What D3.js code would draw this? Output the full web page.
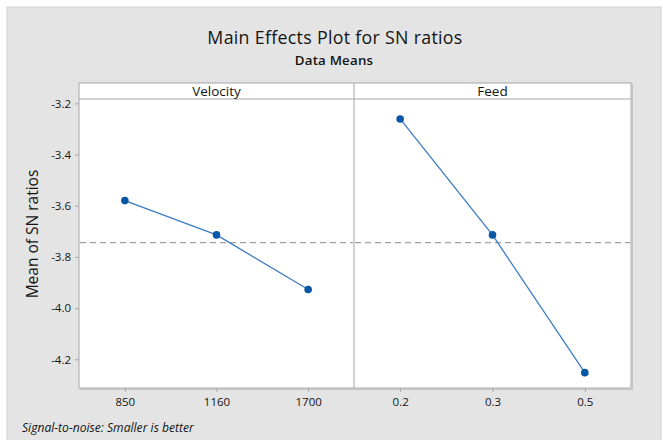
<!DOCTYPE html>
<html>
<head>
<meta charset="utf-8">
<script src="https://cdn.jsdelivr.net/npm/d3@7"></script>
<style>
  html, body { margin: 0; padding: 0; background: #ffffff; }
  svg { display: block; }
  text { font-family: "Open Sans", "Noto Sans", "DejaVu Sans", sans-serif; fill: #141414; }
</style>
</head>
<body>
<svg id="chart" width="663" height="440"></svg>
<script>
// ---- data ----
const velocityLevels = ["850", "1160", "1700"];
const velocityMeans = [-3.580, -3.714, -3.927];
const feedLevels = ["0.2", "0.3", "0.5"];
const feedMeans = [-3.261, -3.714, -4.252];
const panelNames = ["Velocity", "Feed"];
const yTicks = [-3.2, -3.4, -3.6, -3.8, -4.0, -4.2];
const overallMean = -3.744;
const titleText = "Main Effects Plot for SN ratios";
const subtitleText = "Data Means";
const yLabelText = "Mean of SN ratios";
const footerText = "Signal-to-noise: Smaller is better";

const svg = d3.select("#chart");
const W = 663, H = 440;

// background
svg.append("rect").attr("x", 0).attr("y", 0).attr("width", W).attr("height", H).attr("fill", "#ffffff");
svg.append("rect").attr("x", 7).attr("y", 7).attr("width", 654).attr("height", 440)
  .attr("fill", "#e4e4e4").attr("stroke", "#d2d2d2").attr("stroke-width", 1);

// layout
const plotLeft = 79, plotRight = 631, divider = 354;
const headerTop = 83, headerBottom = 99, plotBottom = 388;

const y = d3.scaleLinear().domain([-4.312, -3.183]).range([plotBottom, headerBottom]);

function fitText(sel, target, maxFs) {
  const len = sel.node().getComputedTextLength();
  const fs = parseFloat(sel.attr("font-size"));
  if (len > 0) {
    let nf = fs * target / len;
    if (maxFs && nf > maxFs) nf = maxFs;
    sel.attr("font-size", nf.toFixed(2));
  }
}

// titles
const t1 = svg.append("text").attr("x", 335).attr("y", 43.5).attr("text-anchor", "middle")
  .attr("font-size", 17.8).attr("letter-spacing", 0.3).text(titleText);
const t2 = svg.append("text").attr("x", 334).attr("y", 64.5).attr("text-anchor", "middle")
  .attr("font-size", 13.3).attr("font-weight", 600).attr("letter-spacing", 0.2).text(subtitleText);

// plot area
svg.append("rect").attr("x", plotLeft).attr("y", headerTop)
  .attr("width", plotRight - plotLeft).attr("height", plotBottom - headerTop)
  .attr("fill", "#ffffff").attr("stroke", "#a6a6a6").attr("stroke-width", 1);
svg.append("line").attr("x1", plotLeft).attr("x2", plotRight).attr("y1", headerBottom).attr("y2", headerBottom)
  .attr("stroke", "#a6a6a6");
svg.append("line").attr("x1", divider).attr("x2", divider).attr("y1", headerTop).attr("y2", plotBottom)
  .attr("stroke", "#a6a6a6");
// shadow on right/bottom
svg.append("line").attr("x1", plotRight + 1.5).attr("x2", plotRight + 1.5).attr("y1", headerTop + 1).attr("y2", plotBottom + 1.5)
  .attr("stroke", "#c4c4c4").attr("stroke-width", 1);
svg.append("line").attr("x1", plotLeft + 1).attr("x2", plotRight + 1.5).attr("y1", plotBottom + 1.5).attr("y2", plotBottom + 1.5)
  .attr("stroke", "#c4c4c4").attr("stroke-width", 1);

// y axis
const yAxis = d3.axisLeft(y).tickValues(yTicks).tickSize(4).tickPadding(4).tickFormat(d3.format(".1f"));
const gy = svg.append("g").attr("transform", `translate(${plotLeft},0)`).call(yAxis);
gy.select(".domain").remove();
gy.selectAll(".tick line").attr("stroke", "#a6a6a6");
gy.selectAll(".tick text").attr("font-size", 11.5).attr("fill", "#111111")
  .style("font-family", "'Open Sans', 'Noto Sans', sans-serif")
  .text(d => d3.format(".1f")(d).replace("−", "-"));

// y label
const yl = svg.append("text").attr("transform", "translate(38,234) rotate(-90)")
  .attr("text-anchor", "middle").attr("font-size", 15).text(yLabelText);
fitText(yl, 130, 15.5);

// panels
const panels = [
  { name: panelNames[0], levels: velocityLevels, means: velocityMeans, x0: plotLeft, x1: divider },
  { name: panelNames[1], levels: feedLevels, means: feedMeans, x0: divider, x1: plotRight }
];

panels.forEach(p => {
  const x = d3.scalePoint().domain(p.levels).range([p.x0, p.x1]).padding(0.5);
  // header label
  svg.append("text").attr("x", (p.x0 + p.x1) / 2).attr("y", 95.5).attr("text-anchor", "middle")
    .attr("font-size", 13.5).text(p.name);
  // mean reference line
  svg.append("line").attr("x1", p.x0 + 1).attr("x2", p.x1 - 1)
    .attr("y1", y(overallMean)).attr("y2", y(overallMean))
    .attr("stroke", "#a0a0a0").attr("stroke-width", 1.2).attr("stroke-dasharray", "6,4");
  // line
  const data = p.levels.map((l, i) => ({ l, v: p.means[i] }));
  svg.append("path").datum(data)
    .attr("d", d3.line().x(d => x(d.l)).y(d => y(d.v)))
    .attr("fill", "none").attr("stroke", "#3d7cc4").attr("stroke-width", 1.3);
  svg.selectAll(null).data(data).enter().append("circle")
    .attr("cx", d => x(d.l)).attr("cy", d => y(d.v)).attr("r", 3.8)
    .attr("fill", "#0a56a6");
  // x axis
  const xAxis = d3.axisBottom(x).tickSize(4).tickPadding(6);
  const gx = svg.append("g").attr("transform", `translate(0,${plotBottom})`).call(xAxis);
  gx.select(".domain").remove();
  gx.selectAll(".tick line").attr("stroke", "#a6a6a6");
  gx.selectAll(".tick text").attr("font-size", 11.5).attr("fill", "#111111")
    .style("font-family", "'Open Sans', 'Noto Sans', sans-serif");
});

// footer
const ft = svg.append("text").attr("x", 22).attr("y", 432).attr("font-size", 12)
  .attr("font-style", "italic").text(footerText);
fitText(ft, 172, 12.5);
</script>
</body>
</html>
